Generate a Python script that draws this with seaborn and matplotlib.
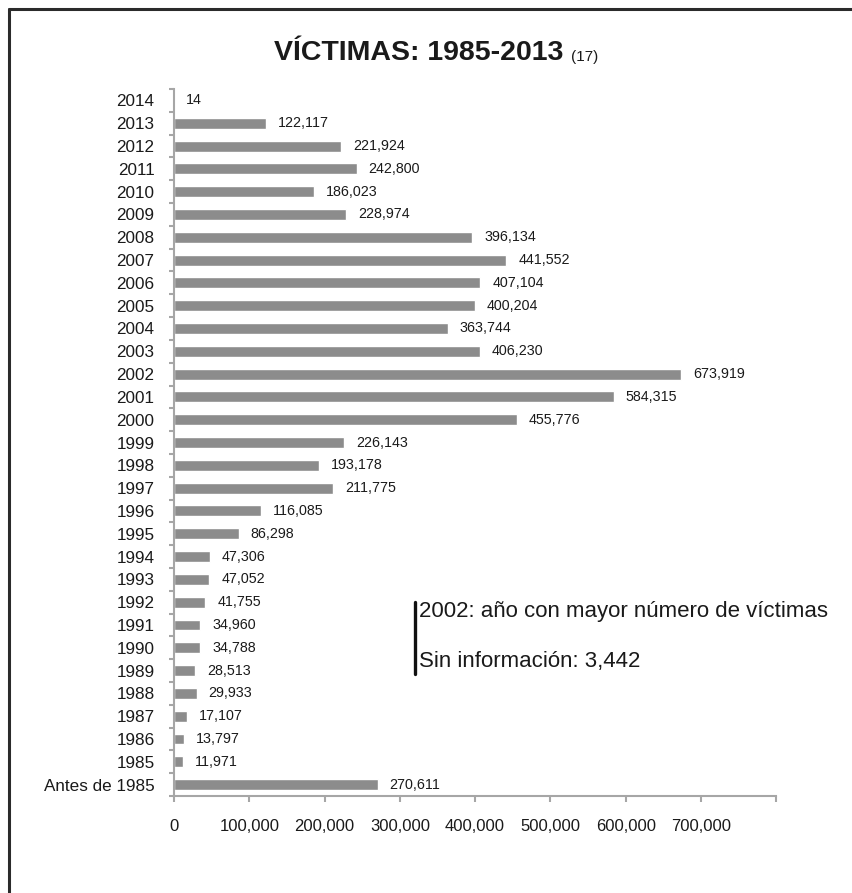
import matplotlib
matplotlib.use('Agg')

import matplotlib.pyplot as plt
import matplotlib.lines as mlines
from matplotlib.ticker import FixedLocator
import seaborn as sns
import pandas as pd

# data (top to bottom)
years = ['2014', '2013', '2012', '2011', '2010', '2009', '2008', '2007', '2006',
         '2005', '2004', '2003', '2002', '2001', '2000', '1999', '1998', '1997',
         '1996', '1995', '1994', '1993', '1992', '1991', '1990', '1989', '1988',
         '1987', '1986', '1985', 'Antes de 1985']
victims = [14, 122117, 221924, 242800, 186023, 228974, 396134, 441552, 407104,
           400204, 363744, 406230, 673919, 584315, 455776, 226143, 193178, 211775,
           116085, 86298, 47306, 47052, 41755, 34960, 34788, 28513, 29933,
           17107, 13797, 11971, 270611]
x_ticks = [0, 100000, 200000, 300000, 400000, 500000, 600000, 700000, 800000]
x_tick_labels = ['0', '100,000', '200,000', '300,000', '400,000', '500,000',
                 '600,000', '700,000', '']

TEXT = '#1a1a1a'
BAR = '#8c8c8c'
SPINE = '#a6a6a6'

sns.set_style('white')
plt.rcParams['font.family'] = ['Liberation Sans', 'DejaVu Sans']

df = pd.DataFrame({'year': years, 'victims': victims})

fig = plt.figure(figsize=(8.53, 8.93), dpi=100, facecolor='white')
ax = fig.add_axes([0.204, 0.1086, 0.706, 0.7917])

sns.barplot(data=df, y='year', x='victims', orient='h', color=BAR,
            saturation=1, width=0.48, ax=ax)

ax.bar_label(ax.containers[0], labels=[f'{v:,}' for v in victims],
             padding=8.5, fontsize=10.3, color=TEXT)

ax.set_xlim(0, 800000)
ax.set_ylim(len(years) - 0.5, -0.5)
ax.xaxis.set_major_locator(FixedLocator(x_ticks))
ax.set_xticklabels(x_tick_labels)
ax.yaxis.set_minor_locator(FixedLocator([i - 0.5 for i in range(len(years) + 1)]))

ax.tick_params(axis='x', which='major', direction='out', length=4.5, width=1.5,
               color=SPINE, labelsize=12, labelcolor=TEXT, pad=12, bottom=True)
ax.tick_params(axis='y', which='major', length=0, labelsize=12.3,
               labelcolor=TEXT, pad=14)
ax.tick_params(axis='y', which='minor', direction='out', length=3.5, width=1.5,
               color=SPINE, left=True)

for side in ['top', 'right']:
    ax.spines[side].set_visible(False)
for side in ['left', 'bottom']:
    ax.spines[side].set_color(SPINE)
    ax.spines[side].set_linewidth(1.5)
ax.set_xlabel('')
ax.set_ylabel('')
ax.grid(False)

# title with the small footnote mark right after it
title = fig.text(274 / 853, 1 - 53 / 893, 'VÍCTIMAS: 1985-2013', fontsize=20.5,
                 fontweight='bold', color=TEXT, ha='left', va='center')
fig.canvas.draw()
bb = title.get_window_extent()
fig.text((bb.x1 + 8) / 853, 1 - 57 / 893, '(17)', fontsize=11, color=TEXT,
         ha='left', va='center')

# note at the right
fig.add_artist(mlines.Line2D([415 / 853, 415 / 853], [1 - 602 / 893, 1 - 674 / 893],
                             color='#111111', lw=2.4))
fig.text(419 / 853, 1 - 612 / 893, '2002: año con mayor número de víctimas',
         fontsize=16, color=TEXT, ha='left', va='center')
fig.text(419 / 853, 1 - 662 / 893, 'Sin información: 3,442',
         fontsize=16, color=TEXT, ha='left', va='center')

# frame lines (only top and left show in the crop)
fig.add_artist(mlines.Line2D([8.5 / 853, 1.0], [1 - 8.5 / 893, 1 - 8.5 / 893],
                             color='#2b2b2b', lw=2.2))
fig.add_artist(mlines.Line2D([8.5 / 853, 8.5 / 853], [1 - 8.5 / 893, 0.0],
                             color='#2b2b2b', lw=2.2))

plt.savefig('out.png', dpi=100, facecolor='white')
plt.close()
